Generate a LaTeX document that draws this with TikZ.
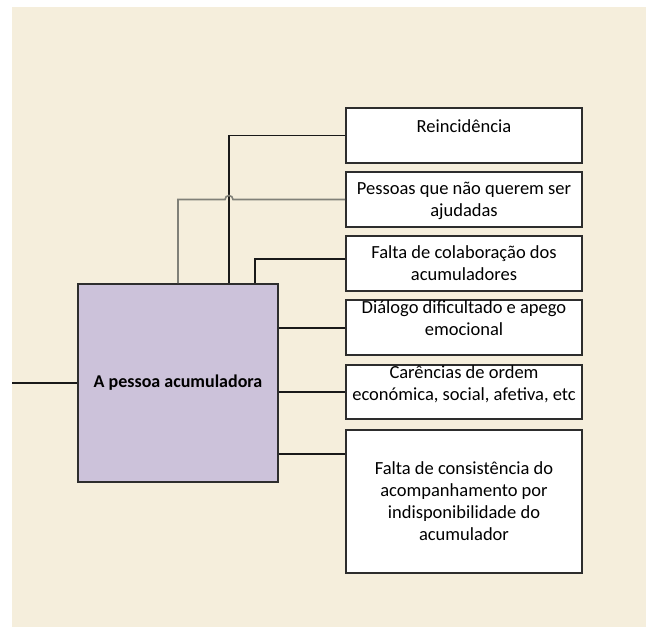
\documentclass[tikz,border=0pt]{standalone}
\usepackage{fontspec}
\setmainfont{Carlito}
\usetikzlibrary{calc}
\definecolor{bgbeige}{RGB}{245,238,220}
\definecolor{lav}{RGB}{204,194,218}
\definecolor{boxline}{RGB}{45,45,45}
\definecolor{grayline}{RGB}{128,128,120}
\begin{document}
\begin{tikzpicture}[x=1bp,y=-1bp,
  causebox/.style={draw=boxline,line width=2bp,fill=white,minimum width=236bp,inner sep=0pt,anchor=north west},
  mainbox/.style={draw=boxline,line width=2bp,fill=lav,minimum width=200bp,minimum height=198bp,inner sep=0pt,
    font=\fontsize{18bp}{22bp}\selectfont\bfseries},
  lbl/.style={align=center,inner sep=0pt,font=\fontsize{18.5bp}{22bp}\selectfont,text=black},
  conn/.style={line width=1.6bp,black!90},
  gconn/.style={line width=1.6bp,grayline}]
\useasboundingbox (0,0) rectangle (646,628);
\fill[bgbeige] (12,7) rectangle (646,627);
% boxes
\node[mainbox] (main) at (178,383) {A pessoa acumuladora};
\node[causebox,minimum height=55bp] (r1) at (345,107) {};
\node[causebox,minimum height=55bp] (r2) at (345,171) {};
\node[causebox,minimum height=55bp] (r3) at (345,235) {};
\node[causebox,minimum height=55bp] (r4) at (345,299) {};
\node[causebox,minimum height=54bp] (r5) at (345,364) {};
\node[causebox,minimum height=143bp] (r6) at (345,429) {};
% labels
\node[lbl] (t1) at ($(r1.north)+(0,19)$) {Reincidência};
\node[lbl] (t2) at ($(r2.center)+(0,1)$) {Pessoas que não querem ser\\ajudadas};
\node[lbl] (t3) at ($(r3.center)+(0,0)$) {Falta de colaboração dos\\acumuladores};
\node[lbl] (t4) at ($(r4.north)+(0,19)$) {Diálogo dificultado e apego\\emocional};
\node[lbl] (t5) at ($(r5.north)+(0,20)$) {Carências de ordem\\económica, social, afetiva, etc};
\node[lbl] (t6) at (r6.center) {Falta de consistência do\\acompanhamento por\\indisponibilidade do\\acumulador};
% connectors
\coordinate (lstart) at (12,383);
\draw[conn] (lstart) -- (main.west);
\draw[conn] (229,0 |- main.north) |- (r1.west);
\draw[gconn] (178,0 |- main.north) -- (178,0 |- r2.west) -- (225,0 |- r2.west)
   arc[start angle=180,end angle=360,radius=4] -- (r2.west);
\draw[conn] (255,0 |- main.north) |- ($(r3.west)+(0,-4.5)$);
\draw[conn] ($(main.east |- r4.west)+(0,0.5)$) -- ($(r4.west)+(0,0.5)$);
\draw[conn] (main.east |- r5.west) -- (r5.west);
\draw[conn] ($(main.east |- r6.north)+(0,25)$) -- ($(r6.north west)+(0,25)$);
\end{tikzpicture}
\end{document}
